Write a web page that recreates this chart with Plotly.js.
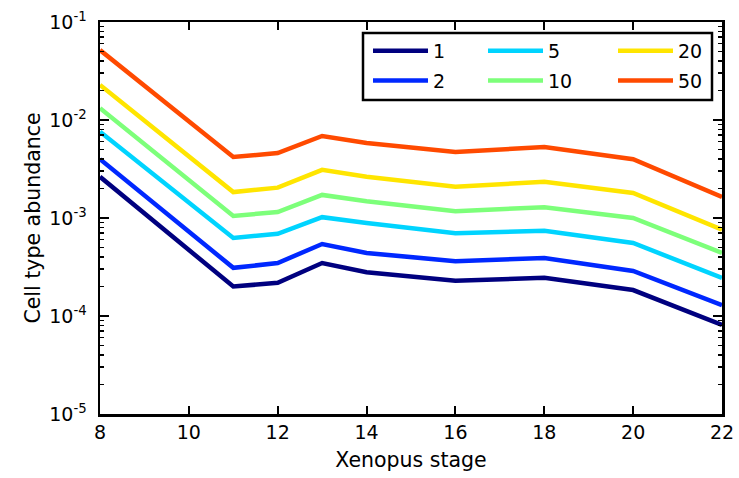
<!DOCTYPE html>
<html>
<head>
<meta charset="utf-8">
<script src="https://cdn.plot.ly/plotly-3.0.1.min.js"></script>
<style>
  html, body { margin: 0; padding: 0; background: #fff; }
  #chart { width: 739px; height: 478px; }
</style>
</head>
<body>
<div id="chart"></div>
<script>
// Xenopus stages (x values)
const stages = [8, 11, 12, 13, 14, 16, 18, 20, 22];

// Series labels
const seriesNames = ["1", "2", "5", "10", "20", "50"];

// Cell type abundance per series
const s1  = [0.00263, 0.000200, 0.000218, 0.000347, 0.000280, 0.000229, 0.000245, 0.000184, 0.0000813];
const s2  = [0.00398, 0.000310, 0.000347, 0.000543, 0.000440, 0.000363, 0.000390, 0.000288, 0.000129];
const s5  = [0.00760, 0.000625, 0.000690, 0.00102, 0.000890, 0.000700, 0.000740, 0.000556, 0.000245];
const s10 = [0.0132, 0.00105, 0.00115, 0.00172, 0.00148, 0.00117, 0.00129, 0.00100, 0.00044];
const s20 = [0.0228, 0.00184, 0.00204, 0.00310, 0.00263, 0.00209, 0.00234, 0.00180, 0.00076];
const s50 = [0.0518, 0.00419, 0.00460, 0.00687, 0.00582, 0.00471, 0.00530, 0.00398, 0.00164];

// Tick values / labels
const yTickVals = [1e-5, 1e-4, 1e-3, 1e-2, 1e-1];
const yTickText = ["10<sup>-5</sup>", "10<sup>-4</sup>", "10<sup>-3</sup>", "10<sup>-2</sup>", "10<sup>-1</sup>"];
const xTickVals = [8, 10, 12, 14, 16, 18, 20, 22];
const xTickText = ["8", "10", "12", "14", "16", "18", "20", "22"];

const seriesValues = [s1, s2, s5, s10, s20, s50];
const colors = ["#00007f", "#0028ff", "#00d4ff", "#7dff7a", "#ffe500", "#ff4a00"];
const legendFor = ["legend", "legend", "legend2", "legend2", "legend3", "legend3"];

const FONT = "DejaVu Sans, Liberation Sans, sans-serif";

const traces = seriesValues.map((vals, i) => ({
  x: stages,
  y: vals,
  type: "scatter",
  mode: "lines",
  name: seriesNames[i],
  legend: legendFor[i],
  legendgroup: "g" + i,
  line: { color: colors[i], width: 4.5 },
  hoverinfo: "skip"
}));

function legendAt(xpx) {
  return {
    x: (xpx - 100) / 622,
    y: 1 - (32 - 22) / 392,
    xanchor: "left",
    yanchor: "top",
    orientation: "v",
    traceorder: "grouped",
    tracegroupgap: 2,
    bgcolor: "rgba(0,0,0,0)",
    borderwidth: 0,
    itemwidth: 55,
    font: { family: FONT, size: 19, color: "#000" }
  };
}

const axisCommon = {
  showgrid: false,
  zeroline: false,
  showline: true,
  linecolor: "#000",
  linewidth: 2.5,
  mirror: "allticks",
  ticks: "inside",
  ticklen: 8,
  tickwidth: 2,
  tickcolor: "#000",
  tickfont: { family: FONT, size: 19, color: "#000" }
};

const layout = {
  width: 739,
  height: 478,
  margin: { l: 100, r: 17, t: 22, b: 64 },
  paper_bgcolor: "#fff",
  plot_bgcolor: "#fff",
  showlegend: true,
  xaxis: Object.assign({}, axisCommon, {
    range: [8, 22],
    tickmode: "array",
    tickvals: xTickVals,
    ticktext: xTickText,
    title: { text: "Xenopus stage", font: { family: FONT, size: 20.5, color: "#000" }, standoff: 11 }
  }),
  yaxis: Object.assign({}, axisCommon, {
    type: "log",
    range: [-5, -1],
    tickmode: "array",
    tickvals: yTickVals,
    ticktext: yTickText,
    ticklen: 9,
    ticklabelstandoff: 7,
    minor: { dtick: "D1", ticks: "inside", ticklen: 4, tickwidth: 1.5, tickcolor: "#000", showgrid: false },
    title: { text: "Cell type abundance", font: { family: FONT, size: 20.5, color: "#000" }, standoff: 3 }
  }),
  legend: legendAt(368),
  legend2: legendAt(483),
  legend3: legendAt(613),
  shapes: [{
    type: "rect",
    xref: "paper", yref: "paper",
    x0: (363 - 100) / 622, x1: (712 - 100) / 622,
    y0: 1 - (100 - 22) / 392, y1: 1 - (33 - 22) / 392,
    line: { color: "#000", width: 2.5 },
    fillcolor: "rgba(0,0,0,0)"
  }]
};

Plotly.newPlot("chart", traces, layout, { staticPlot: true, displayModeBar: false });
</script>
</body>
</html>
